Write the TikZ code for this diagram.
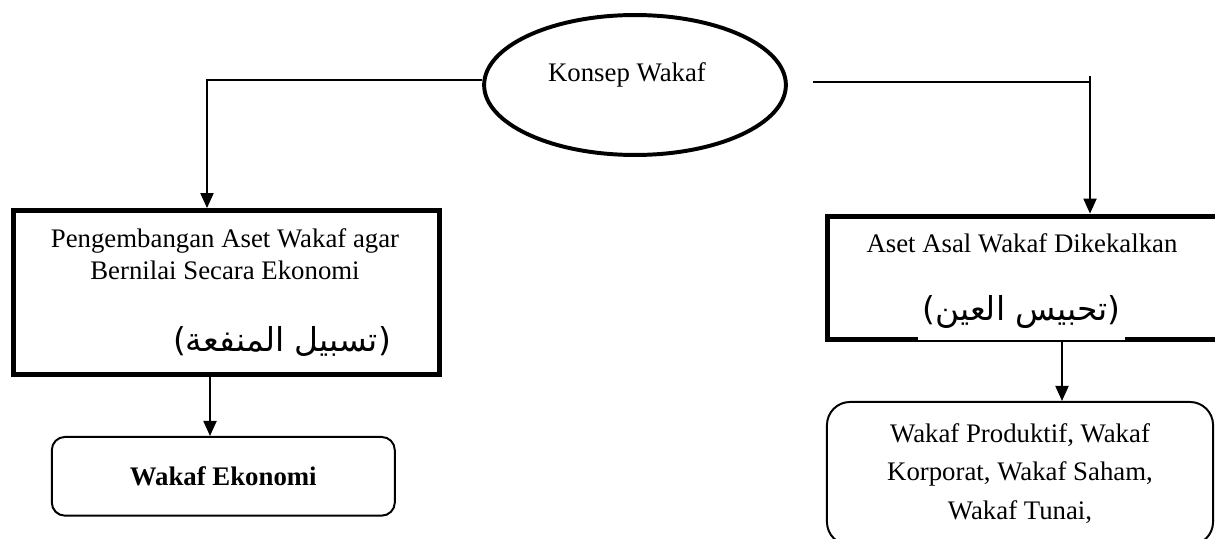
\documentclass[tikz,border=0pt]{standalone}
\usepackage{fontspec}
\setmainfont{Liberation Serif}
\newfontfamily\arabicfont[Script=Arabic]{DejaVu Sans}
\TeXXeTstate=1
\usetikzlibrary{shapes.geometric}
\usetikzlibrary{positioning}
\usetikzlibrary{arrows.meta}

\tikzset{
  bigbox/.style={draw, rectangle, line width=2.3pt, inner sep=0pt},
  endbox/.style={draw, rectangle, line width=0.9pt, align=center},
  link/.style={line width=0.7pt},
  arr/.style={link, -{Triangle[length=0.24cm,width=0.21cm]}},
  arab/.style={font=\arabicfont\fontsize{15}{18}\selectfont},
  every node/.style={font=\fontsize{12.2}{14.5}\selectfont}
}

\begin{document}
\begin{tikzpicture}[x=0.016cm,y=-0.016cm]
            \path[use as bounding box] (0,0) rectangle (1215,539);
            \clip (0,0) rectangle (1215,539);
            % concept at the top
            \node[draw, ellipse, line width=1.8pt, minimum width=4.83cm, minimum height=2.24cm] (konsep) at (635,85) {};
            \node (konsepteks) at (627,75) {Konsep Wakaf};
            
            % the two main boxes
            \node[bigbox, minimum width=6.82cm, minimum height=2.63cm] (manfaat) at (226.5,292.75) {};
            \node[align=center] (manfaatteks) at (225,254) {Pengembangan Aset Wakaf agar\\Bernilai Secara Ekonomi};
            \node[arab] (manfaatarab) at (282,341) {\beginR(تسبيل المنفعة)\endR};
            
            \node[bigbox, minimum width=6.6cm, minimum height=1.98cm] (asal) at (1033.75,278) {};
            \node (asalteks) at (1022,243) {Aset Asal Wakaf Dikekalkan};
            \node[arab, fill=white, inner sep=0pt, minimum width=3.31cm, minimum height=0.9cm, anchor=south] (asalarab) at (1021.5,340.5) {\beginR(تحبيس العين)\endR};
            
            % results
            \node[endbox, rounded corners=0.21cm, minimum width=5.49cm, minimum height=1.26cm, font=\fontsize{12.2}{14.5}\selectfont\bfseries] (ekonomi) at (223.3,476.3) {Wakaf Ekonomi};
            \node[endbox, rounded corners=0.37cm, minimum width=6.18cm, minimum height=2.29cm, font=\fontsize{12.2}{17.5}\selectfont] (produktif) at (1020,473.5) {Wakaf Produktif, Wakaf\\Korporat, Wakaf Saham,\\Wakaf Tunai,};
            
            % connectors
            \coordinate (kL) at (482,80);
            \coordinate (lturn) at (207,80);
            \coordinate (kR) at (813,82);
            \coordinate (rturn) at (1090,76);
            \coordinate (lx) at (210,0);
            \coordinate (rx) at (1062,0);
            \draw[arr] (kL) -- (lturn) -- (lturn |- manfaat.north);
            \draw[link] (kR) -- (kR -| rturn);
            \draw[arr] (rturn) -- (rturn |- asal.north);
            \draw[arr] (manfaat.south -| lx) -- (ekonomi.north -| lx);
            \draw[arr] (asal.south -| rx) -- (produktif.north -| rx);
        \end{tikzpicture}
\end{document}
